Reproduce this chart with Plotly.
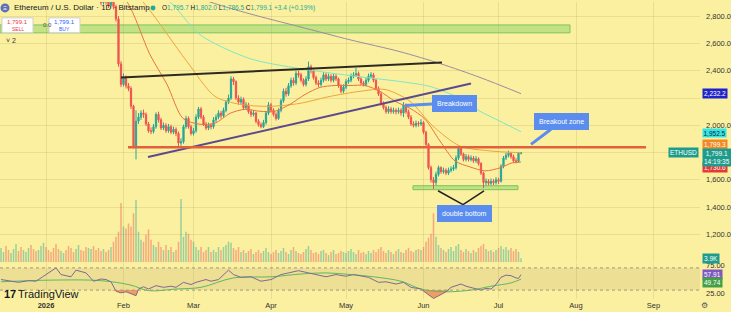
import plotly.graph_objects as go
import pandas as pd

# ---------------- data ----------------
BASE = "2026-01-01"
FIRST_DAY = -18  # first candle = 2025-12-14

closes = [3050,3080,3020,2990,3040,3100,3150,3120,3080,3130,3180,3210,3160,3110,3090,3140,3190,3230,
          3200,3150,3120,3080,3040,3000,3060,3110,3090,3050,3020,2990,3030,3070,3040,3000,2970,2990,3020,2980,
          2950,2925,2900,2930,2905,2880,2910,2870,2780,2450,2300,2350,2290,2270,2140,1840,
          2030,2060,2090,2080,2010,1960,1955,1990,2080,2040,1980,2000,1960,1990,1950,1970,1940,1870,1880,1990,2050,1990,1940,1960,
          2060,2120,2060,2010,1980,2000,1990,2040,2060,2090,2070,2110,2170,2200,2340,2320,2200,2170,2190,2130,2150,2100,2080,2090,2030,2005,1990,2020,2090,2150,
          2110,2080,2050,2110,2180,2250,2230,2290,2330,2310,2380,2370,2330,2300,2340,2430,2400,2350,2310,2300,2330,2370,2340,2360,2330,2360,2340,2290,2250,2280,
          2320,2330,2360,2370,2380,2340,2310,2300,2330,2360,2370,2330,2270,2230,2160,2130,2100,2120,2100,2110,2100,2110,2090,2150,2100,2060,2010,2000,2015,2010,
          2020,1950,1860,1690,1600,1580,1640,1690,1660,1670,1650,1670,1680,1690,1760,1830,1790,1750,1770,1750,1760,1740,1755,1720,1650,1580,1590,1575,1590,1580,
          1600,1590,1700,1760,1780,1795,1770,1740,1735,1795.7,1799.1]

opens = [3030,3050,3080,3020,2990,3040,3100,3150,3120,3080,3130,3180,3210,3160,3110,3090,3140,3190,
         3230,3200,3150,3120,3080,3040,3000,3060,3110,3090,3050,3020,2990,3030,3070,3040,3000,2970,2990,3020,
         2980,2950,2925,2900,2930,2905,2880,2910,2870,2780,2450,2300,2350,2290,2270,2140,
         1840,2030,2060,2090,2080,2010,1960,1955,1990,2080,2040,1980,2000,1960,1990,1950,1970,1940,1870,1880,1990,2050,1990,1940,
         1960,2060,2120,2060,2010,1980,2000,1990,2040,2060,2090,2070,2110,2170,2200,2340,2320,2200,2170,2190,2130,2150,2100,2080,2090,2030,2005,1990,2020,2090,
         2150,2110,2080,2050,2110,2180,2250,2230,2290,2330,2310,2380,2370,2330,2300,2340,2430,2400,2350,2310,2300,2330,2370,2340,2360,2330,2360,2340,2290,2250,
         2280,2320,2330,2360,2370,2380,2340,2310,2300,2330,2360,2370,2330,2270,2230,2160,2130,2100,2120,2100,2110,2100,2110,2090,2150,2100,2060,2010,2000,2015,
         2010,2020,1950,1860,1690,1600,1580,1640,1690,1660,1670,1650,1670,1680,1690,1760,1830,1790,1750,1770,1750,1760,1740,1755,1720,1650,1580,1590,1575,1590,
         1580,1600,1590,1700,1760,1780,1795,1770,1740,1735,1795.7]

highs = [3075,3100,3095,3040,3060,3120,3175,3170,3140,3150,3200,3240,3230,3175,3130,3160,3210,3250,
         3255,3215,3170,3140,3095,3060,3080,3130,3130,3105,3070,3035,3050,3090,3085,3055,3020,3010,3040,3035,
         3000,2970,2945,2950,2950,2925,2930,2925,2885,2800,2470,2380,2365,2310,2285,2150,
         2110,2090,2110,2115,2095,2025,1985,2010,2095,2100,2055,2020,2015,2010,2005,1990,1985,1955,1905,2005,2070,2065,2005,1980,
         2080,2135,2135,2075,2025,2020,2015,2060,2080,2110,2105,2130,2185,2225,2360,2355,2330,2220,2210,2205,2170,2165,2115,2110,2100,2045,2020,2040,2105,2170,
         2165,2125,2095,2125,2195,2270,2275,2310,2350,2350,2400,2400,2385,2345,2360,2467,2445,2410,2365,2330,2350,2390,2385,2380,2375,2380,2375,2350,2300,2300,
         2340,2350,2380,2390,2420,2395,2355,2325,2350,2380,2390,2385,2340,2285,2245,2175,2145,2140,2135,2130,2125,2130,2125,2170,2160,2115,2075,2030,2035,2030,
         2045,2030,1960,1870,1705,1620,1660,1705,1700,1690,1685,1690,1700,1710,1780,1850,1840,1800,1790,1785,1780,1775,1775,1765,1730,1660,1610,1605,1610,1605,
         1620,1615,1715,1775,1800,1815,1805,1785,1760,1805,1802.0]

lows = [3010,3035,3000,2970,2975,3025,3085,3100,3060,3065,3115,3160,3140,3090,3070,3075,3120,3175,
        3180,3130,3100,3060,3020,2980,2985,3045,3070,3030,3000,2970,2975,3015,3020,2980,2950,2950,2975,2960,
        2930,2905,2880,2885,2885,2860,2865,2850,2760,2430,2280,2285,2270,2250,2120,1830,
        1750,2010,2040,2055,1995,1945,1935,1940,1975,2020,1965,1965,1945,1945,1935,1935,1920,1833,1850,1865,1975,1975,1925,1925,
        1945,2045,2045,1995,1965,1965,1970,1975,2025,2045,2050,2055,2095,2155,2185,2295,2185,2150,2155,2115,2115,2085,2060,2065,2015,1990,1978,1980,2005,2075,
        2095,2065,2035,2040,2095,2165,2210,2215,2275,2290,2295,2350,2315,2285,2285,2325,2380,2335,2295,2280,2285,2315,2325,2325,2315,2315,2325,2275,2235,2235,
        2265,2305,2315,2345,2355,2325,2295,2285,2285,2315,2345,2315,2255,2215,2145,2115,2085,2085,2085,2085,2080,2085,2070,2060,2085,2045,1995,1985,1985,1990,
        1995,1935,1845,1675,1580,1532,1560,1625,1645,1645,1635,1635,1655,1665,1675,1745,1775,1735,1735,1735,1735,1725,1725,1705,1635,1540,1560,1560,1560,1562,
        1565,1570,1580,1685,1745,1765,1755,1725,1720,1725,1786.5]

volumes_k = [14,10,16,12,9,13,18,11,15,12,10,14,17,13,11,12,16,19,
             15,12,10,14,18,13,11,9,12,16,14,10,13,17,12,11,15,14,13,16,
             12,14,11,13,10,12,15,20,25,30,58,35,33,38,35,48,
             61,30,22,20,27,32,22,17,15,20,15,12,17,12,15,10,12,20,62,25,30,28,22,20,
             15,12,15,10,12,15,10,12,10,15,12,15,17,20,19,14,12,15,10,12,9,11,13,8,10,12,9,11,14,10,
             8,10,12,9,11,14,10,8,12,15,11,9,8,10,13,16,12,9,10,8,11,12,9,7,10,12,8,9,11,10,
             9,11,13,10,8,12,9,10,8,11,9,12,10,13,15,11,9,12,10,8,11,13,10,9,12,14,11,10,12,13,
             12,15,20,24,28,48,25,17,14,12,10,13,15,11,16,18,12,10,13,11,9,12,10,14,16,18,13,11,12,10,
             12,14,16,13,15,12,14,11,13,10,3.9]

# moving averages (day offset from 2026-01-01, value)
ma20_day = [26, 32.4, 41.6, 48.4, 54.8, 61.6, 67.6, 73.6, 79.6, 85.6, 91.6, 97.6, 103.6, 109.6, 115.6, 121.6,
            127.6, 133.6, 139.6, 145.6, 151.6, 157.6, 163.6, 169.6, 175.6, 181.6, 186.4, 190]
ma20_val = [3000, 2904, 2518, 2300, 2051, 2008, 2015, 2088, 2117, 2103, 2103, 2154, 2226, 2278, 2292, 2292,
            2292, 2249, 2176, 2125, 2045, 1885, 1739, 1695, 1666, 1688, 1724, 1730.6]
ma50_day = [30, 38.8, 56.4, 67.6, 77.6, 89.6, 101.6, 113.6, 125.6, 135.6, 145.6, 154.8, 165.6, 177.6, 190]
ma50_val = [3050, 2904, 2467, 2212, 2154, 2139, 2161, 2212, 2249, 2263, 2176, 1994, 1848, 1812, 1799.3]
ma100_day = [40, 49.6, 61.6, 81.6, 101.6, 121.6, 141.6, 153.6, 165.6, 173.6, 181.6, 190]
ma100_val = [3000, 2904, 2664, 2489, 2416, 2365, 2321, 2285, 2198, 2103, 2030, 1952.5]
ma200_day = [50, 65.6, 81.6, 101.6, 121.6, 141.6, 157.6, 173.6, 190]
ma200_val = [3010, 2904, 2817, 2722, 2627, 2540, 2453, 2351, 2232.2]

rsi_day = [-18,-14,-11,-7,-4,0,4,6,10,12,16,19,22,24,26,28,30,32,34,36,37,39,41,44,47,50,52,55,58,60,64,66,69,73,75,
           78,82,86,90,94,97,101,105,108,112,116,120,123,126,129,133,136,140,143,146,150,152,155,158,160,162,166,168,
           170,172,174,176,178,180,182,184,186,188,189,190]
rsi_val = [49,46,44,47,46,58,70,58,54,66,61,46,50,49,45,28,25,27,24,20,32,36,32,38,35,37,35,44,40,44,49,46,49,66,58,
           53,54,46,49,58,61,65,61,58,54,58,55,58,55,53,44,45,41,44,35,32,25,15,22,27,35,41,37,
           35,32,30,33,32,40,53,57,56,52,51,57.91]
rsima_day = [-18, 2, 22, 34, 41, 52, 62, 75, 90, 102, 112, 122, 131, 142, 150, 159, 170, 178, 186, 190]
rsima_val = [45, 48, 47, 39, 29, 32, 35, 52, 54, 59, 61, 58, 54, 46, 32, 27, 30, 37, 43, 49.74]

month_ticks = ["2026-01-01", "2026-02-01", "2026-03-01", "2026-04-01", "2026-05-01",
               "2026-06-01", "2026-07-01", "2026-08-01", "2026-09-01"]
month_text = ["<b>2026</b>", "Feb", "Mar", "Apr", "May", "Jun", "Jul", "Aug", "Sep"]
price_ticks = [1000, 1200, 1400, 1600, 1800, 2000, 2200, 2400, 2600, 2800]
price_text = ["", "1,200.0", "1,400.0", "1,600.0", "", "2,000.0", "", "2,400.0", "2,600.0", "2,800.0"]

# ---------------- helpers ----------------
base = pd.Timestamp(BASE)
def day(d):
    return base + pd.Timedelta(days=d)

dates = [day(FIRST_DAY + i) for i in range(len(closes))]
W_PLOT, H_PLOT = 700, 299
def px(x):
    return x / W_PLOT
def py(y):
    return 1 - y / H_PLOT

BG = "#FAF0A0"
GREEN = "#26A69A"
RED = "#EF5350"

fig = go.Figure()

vol_colors = ["rgba(38,166,154,0.45)" if c >= o else "rgba(239,83,80,0.45)" for o, c in zip(opens, closes)]
fig.add_trace(go.Bar(x=dates, y=volumes_k, marker_color=vol_colors, marker_line_width=0,
                     width=0.6 * 86400000, yaxis="y3", xaxis="x", hoverinfo="skip"))

fig.add_trace(go.Candlestick(x=dates, open=opens, high=highs, low=lows, close=closes,
                             increasing=dict(line=dict(color=GREEN, width=1), fillcolor=GREEN),
                             decreasing=dict(line=dict(color=RED, width=1), fillcolor=RED),
                             whiskerwidth=0, yaxis="y", xaxis="x", hoverinfo="skip"))

for dd, vv, col in [(ma200_day, ma200_val, "#9B8C9E"), (ma100_day, ma100_val, "#7FE6C4"),
                    (ma50_day, ma50_val, "#F2A33A"), (ma20_day, ma20_val, "#E9733A")]:
    fig.add_trace(go.Scatter(x=[day(d) for d in dd], y=vv, mode="lines",
                             line=dict(color=col, width=1, shape="spline", smoothing=0.8),
                             yaxis="y", xaxis="x", hoverinfo="skip"))

rsi_dates = [day(d) for d in rsi_day]
fig.add_trace(go.Scatter(x=rsi_dates, y=[30] * len(rsi_dates), mode="lines", line=dict(width=0),
                         yaxis="y2", xaxis="x", hoverinfo="skip"))
fig.add_trace(go.Scatter(x=rsi_dates, y=[min(v, 30) for v in rsi_val], mode="lines", line=dict(width=0),
                         fill="tonexty", fillcolor="rgba(240,110,60,0.65)", yaxis="y2", xaxis="x", hoverinfo="skip"))
fig.add_trace(go.Scatter(x=[day(d) for d in rsima_day], y=rsima_val, mode="lines",
                         line=dict(color="#5DB962", width=1, shape="spline"), yaxis="y2", xaxis="x", hoverinfo="skip"))
fig.add_trace(go.Scatter(x=rsi_dates, y=rsi_val, mode="lines", line=dict(color="#7E6A96", width=1),
                         yaxis="y2", xaxis="x", hoverinfo="skip"))

x0 = base - pd.Timedelta(days=18.4)
x1 = x0 + pd.Timedelta(days=W_PLOT / 2.5)

shapes = []
# RSI band and levels
shapes.append(dict(type="rect", xref="paper", yref="y2", x0=0, x1=1, y0=30, y1=70,
                   fillcolor="rgba(150,110,60,0.12)", line_width=0, layer="below"))
for lv in (30, 70):
    shapes.append(dict(type="line", xref="paper", yref="y2", x0=0, x1=1, y0=lv, y1=lv,
                       line=dict(color="#A09A80", width=1, dash="dot")))
# zones
shapes.append(dict(type="rect", xref="x", yref="y", x0=day(-18.4), x1=day(209.6), y0=2678, y1=2736,
                   fillcolor="rgba(150,215,110,0.55)", line=dict(color="#7DC25E", width=1), layer="below"))
shapes.append(dict(type="rect", xref="x", yref="y", x0=day(146.8), x1=day(188.8), y0=1528, y1=1557,
                   fillcolor="rgba(150,215,110,0.6)", line=dict(color="#7DC25E", width=1), layer="below"))
# trend lines
shapes.append(dict(type="line", xref="x", yref="y", x0=day(30), y0=2351, x1=day(158.4), y1=2460,
                   line=dict(color="#2E2A22", width=2)))
shapes.append(dict(type="line", xref="x", yref="y", x0=day(40.8), y0=1767, x1=day(170), y1=2307,
                   line=dict(color="#5C4A8C", width=2)))
shapes.append(dict(type="line", xref="x", yref="y", x0=day(32.8), y0=1840, x1=day(240), y1=1840,
                   line=dict(color="#E2603A", width=2.5)))
shapes.append(dict(type="line", xref="x", yref="y", x0=day(156.8), y0=1520, x1=day(166.8), y1=1418,
                   line=dict(color="#222", width=1.5)))
shapes.append(dict(type="line", xref="x", yref="y", x0=day(166.8), y0=1418, x1=day(175.2), y1=1520,
                   line=dict(color="#222", width=1.5)))
# header icons / boxes
shapes.append(dict(type="circle", xref="paper", yref="paper", x0=px(0.5), x1=px(9.5), y0=py(10.5), y1=py(1.5),
                   fillcolor="#5E6FB8", line_width=0))
shapes.append(dict(type="circle", xref="paper", yref="paper", x0=px(150.5), x1=px(155.5), y0=py(8.5), y1=py(3.5),
                   fillcolor="#22AB94", line_width=0))
for bx0, bx1 in [(2, 33), (49, 80)]:
    shapes.append(dict(type="rect", xref="paper", yref="paper", x0=px(bx0), x1=px(bx1), y0=py(31), y1=py(16),
                       fillcolor="white", line=dict(color="#CFCFCF", width=1)))

ann = []
def txt(x, y, s, size=7, color="#131722", xanchor="left", **kw):
    ann.append(dict(xref="paper", yref="paper", x=px(x), y=py(y), text=s, showarrow=False,
                    xanchor=xanchor, yanchor="middle", font=dict(size=size, color=color), **kw))

txt(5, 6, "Ξ", size=6, color="white", xanchor="center")
txt(12, 6, "Ethereum / U.S. Dollar · 1D · Bitstamp", size=8)
g = "#22AB94"
txt(160, 6, f"O<span style='color:{g}'>1,795.7</span> H<span style='color:{g}'>1,802.0</span> "
            f"L<span style='color:{g}'>1,786.5</span> C<span style='color:{g}'>1,799.1</span> "
            f"<span style='color:{g}'>+3.4 (+0.19%)</span>", size=6.5)
txt(17.5, 20, "1,799.1", size=6, color="#F23645", xanchor="center")
txt(17.5, 27, "SELL", size=5, color="#F23645", xanchor="center")
txt(64.5, 20, "1,799.1", size=6, color="#2962FF", xanchor="center")
txt(64.5, 27, "BUY", size=5, color="#2962FF", xanchor="center")
txt(41, 23, "0.0", size=6, color="#555")
txt(4, 39, "˅ 2", size=7, color="#333")
txt(2, 294, "<b>17</b>", size=11, color="#131722")
txt(16, 294, "TradingView", size=11, color="#131722")
txt(704, 306, "⚙", size=8, color="#555", xanchor="center")

# callouts
BLUE = "#5B8DEF"
ann.append(dict(xref="x", yref="y", x=day(143.6), y=2146, axref="x", ayref="y", ax=day(163.2), ay=2163,
                text="Breakdown", showarrow=True, arrowhead=0, arrowwidth=3, arrowcolor=BLUE,
                bgcolor=BLUE, bordercolor=BLUE, borderpad=4, font=dict(size=7, color="white")))
ann.append(dict(xref="x", yref="y", x=day(194), y=1860, axref="x", ayref="y", ax=day(206.2), ay=2030,
                text="Breakout zone", showarrow=True, arrowhead=0, arrowwidth=3, arrowcolor=BLUE,
                bgcolor=BLUE, bordercolor=BLUE, borderpad=4, font=dict(size=7, color="white")))
ann.append(dict(xref="x", yref="y", x=day(167.2), y=1351, text="double bottom", showarrow=False,
                bgcolor=BLUE, bordercolor=BLUE, borderpad=4, font=dict(size=7, color="white")))

# right-scale value labels
def rlabel(yref, y, s, bg, fg="white", yshift=0, pad=1):
    ann.append(dict(xref="paper", yref=yref, x=1, y=y, xanchor="left", yanchor="middle", xshift=2, yshift=yshift,
                    text=s, showarrow=False, bgcolor=bg, borderpad=pad, font=dict(size=6.5, color=fg)))
rlabel("y", ma200_val[-1], "2,232.2", "#1F24C9")
rlabel("y", ma100_val[-1], "1,952.5", "#33E6E6", fg="#123", yshift=-1.5, pad=0.5)
rlabel("y", ma50_val[-1], "1,799.3", "#F08A24", yshift=8.5)
rlabel("y", ma20_val[-1], "1,730.6", "#E53935", yshift=-5)
ann.append(dict(xref="paper", yref="y", x=1, y=closes[-1], xanchor="left", yanchor="top", xshift=2, yshift=4.5,
                text="1,799.1<br>14:19:35", showarrow=False, bgcolor="#1E9C8B", borderpad=1,
                font=dict(size=6.5, color="white")))
ann.append(dict(xref="paper", yref="y", x=1, y=closes[-1], xanchor="right", yanchor="middle", xshift=-1,
                text="ETHUSD", showarrow=False, bgcolor="#1E9C8B", borderpad=1, font=dict(size=6.5, color="white")))
rlabel("y3", volumes_k[-1], "3.9K", "#1E9C8B")
rlabel("y2", rsi_val[-1], "57.91", "#7E57C2")
rlabel("y2", rsima_val[-1], "49.74", "#43A047", yshift=-3)

GRID = "rgba(175,160,80,0.22)"
fig.update_layout(
    width=731, height=312, margin=dict(l=0, r=31, t=0, b=13),
    paper_bgcolor=BG, plot_bgcolor=BG, showlegend=False,
    font=dict(family="Liberation Sans, Arial, sans-serif"),
    xaxis=dict(type="date", range=[x0, x1], anchor="y2", tickvals=month_ticks, ticktext=month_text,
               showgrid=True, gridcolor=GRID, gridwidth=1, zeroline=False, showline=False, ticks="",
               tickfont=dict(size=7.5, color="#333"), rangeslider=dict(visible=False), fixedrange=True),
    yaxis=dict(domain=[1 - 262 / H_PLOT, 1], range=[996, 2904.1], side="right", anchor="x",
               tickvals=price_ticks, ticktext=price_text, showgrid=True, gridcolor=GRID, zeroline=False,
               showline=False, ticks="", ticklabelstandoff=5, tickfont=dict(size=7.5, color="#333")),
    yaxis2=dict(domain=[0, 1 - 263 / H_PLOT], range=[14, 78.4], side="right", anchor="x",
                tickvals=[25, 75], ticktext=["25.00", "75.00"], showgrid=False, zeroline=False,
                showline=False, ticks="", ticklabelstandoff=5, tickfont=dict(size=7.5, color="#333")),
    yaxis3=dict(overlaying="y", range=[0, 255], visible=False),
    shapes=shapes, annotations=ann,
)

fig.write_html("out.html")
